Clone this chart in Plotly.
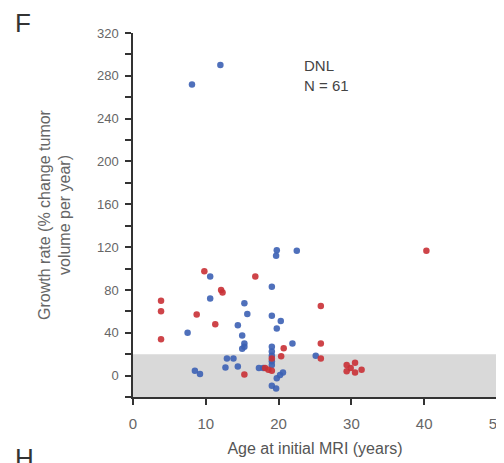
import plotly.graph_objects as go

blue_age = [8.1, 12.0, 19.75, 19.66, 22.5, 10.6, 10.6, 19.07, 7.5, 15.3, 15.7, 14.4, 19.07, 20.3,
            19.75, 15.0, 15.3, 15.3, 15.0, 21.9, 19.07, 19.07, 19.07, 19.07, 19.07, 25.1, 12.9,
            13.8, 12.7, 14.4, 8.5, 9.2, 17.3, 17.9, 20.6, 20.2, 19.75, 19.07, 19.66]
blue_rate = [272, 290, 117, 112, 116.5, 92.5, 72, 83, 40, 67.5, 57.5, 47, 56, 51,
             44, 37.5, 30, 27, 25, 30, 27, 22.5, 18.5, 13.5, 10, 18.5, 16,
             16, 7.5, 8.5, 4.5, 1.5, 7, 7, 3, 0.5, -2.5, -9.5, -12]
red_age = [40.3, 9.8, 16.8, 12.1, 12.3, 3.85, 3.85, 8.75, 25.8, 11.3, 3.85, 25.8, 20.7, 20.35,
           25.8, 19.07, 15.3, 18.15, 18.6, 19.07, 29.35, 29.35, 30.5, 30.5, 31.4, 29.9]
red_rate = [116.5, 97.5, 92.5, 80, 77.5, 70, 60, 57, 65, 48, 34, 30, 25.5, 18,
            16, 16, 1, 7, 5.5, 4.5, 10, 4, 12, 3, 5.5, 7]

x_ticks = [0, 10, 20, 30, 40, 50]
y_ticks = [0, 40, 80, 120, 160, 200, 240, 280, 320]
y_minor = [-20, 20, 60, 100, 140, 180, 220, 260, 300]

fig = go.Figure()
fig.add_shape(type="rect", xref="x", yref="y", x0=0, x1=50, y0=-20, y1=20,
              fillcolor="#d9d9d9", line=dict(width=0), layer="below")
fig.add_trace(go.Scatter(x=blue_age, y=blue_rate, mode="markers",
                         marker=dict(color="#3c60b4", size=6.5, opacity=0.9), showlegend=False))
fig.add_trace(go.Scatter(x=red_age, y=red_rate, mode="markers",
                         marker=dict(color="#c93035", size=6.5, opacity=0.9), showlegend=False))

fig.update_layout(
    width=496, height=455,
    margin=dict(l=125, r=7, t=25, b=66),
    plot_bgcolor="white", paper_bgcolor="white",
    font=dict(family="Liberation Sans, Arial", color="#555555"),
    xaxis=dict(range=[0, 50], tickvals=x_ticks, ticks="outside", ticklen=6, tickwidth=1.5,
               tickcolor="#333333", showline=True, linecolor="#333333", linewidth=1.5,
               showgrid=False, zeroline=False, ticklabeloverflow="allow", ticklabelstandoff=6,
               automargin=False,
               tickfont=dict(family="Liberation Sans, Arial", size=15, color="#666666"),
               title=dict(text="Age at initial MRI (years)", font=dict(size=16, color="#555555"),
                          standoff=12)),
    yaxis=dict(range=[-20, 320], tickvals=y_ticks, ticks="outside", ticklen=6, tickwidth=1.5,
               tickcolor="#333333", showline=True, linecolor="#333333", linewidth=1.5,
               showgrid=False, zeroline=False, ticklabelstandoff=4, automargin=False,
               tickfont=dict(family="Liberation Sans, Arial", size=13, color="#666666"),
               minor=dict(tickvals=y_minor, ticks="outside",
                          ticklen=6, tickwidth=1.5, tickcolor="#333333"),
               title=dict(text="Growth rate (% change tumor<br>volume per year)",
                          font=dict(size=16, color="#666666"), standoff=22)),
    annotations=[
        dict(text="DNL<br>N = 61", x=0.465, y=0.94, xref="paper", yref="paper",
             xanchor="left", yanchor="top", showarrow=False, align="left",
             font=dict(size=15, color="#444444")),
        dict(text="F", x=-0.33, y=1.075, xref="paper", yref="paper", showarrow=False,
             xanchor="left", yanchor="top", font=dict(size=26, color="#333333")),
        dict(text="H", x=-0.33, y=-0.12, xref="paper", yref="paper", showarrow=False,
             xanchor="left", yanchor="top", font=dict(size=26, color="#333333")),
    ],
)
fig.write_html("out.html")
